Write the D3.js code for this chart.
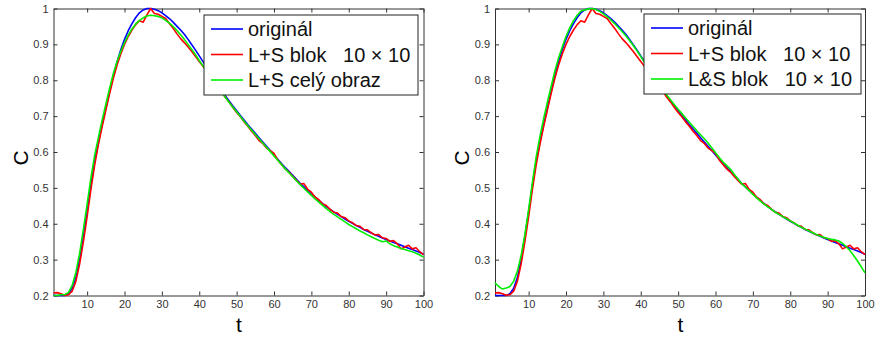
<!DOCTYPE html>
<html>
<head>
<meta charset="utf-8">
<script src="https://cdn.jsdelivr.net/npm/d3@7"></script>
<style>
  body { margin: 0; background: #fff; }
  svg { display: block; font-family: "Liberation Sans", Arial, sans-serif; }
  .tick text { font-size: 11px; fill: #333; }
  .domain, .tick line { stroke: #333; }
</style>
</head>
<body>
<svg id="chart" width="876" height="338"></svg>
<script>
// time axis t = 1..100
var t = d3.range(1, 101);

var original = [
  0.200, 0.200, 0.200, 0.200, 0.205, 0.220, 0.250, 0.300, 0.365, 0.433,
  0.507, 0.573, 0.626, 0.676, 0.722, 0.768, 0.812, 0.851, 0.885, 0.914,
  0.938, 0.958, 0.975, 0.988, 0.996, 1.000, 1.000, 0.998, 0.994, 0.988,
  0.980, 0.972, 0.962, 0.951, 0.940, 0.928, 0.914, 0.899, 0.884, 0.868,
  0.852, 0.836, 0.820, 0.804, 0.788, 0.772, 0.756, 0.742, 0.728, 0.715,
  0.702, 0.689, 0.676, 0.664, 0.652, 0.640, 0.628, 0.616, 0.604, 0.592,
  0.580, 0.568, 0.557, 0.546, 0.535, 0.524, 0.513, 0.503, 0.493, 0.483,
  0.474, 0.465, 0.456, 0.448, 0.440, 0.433, 0.426, 0.420, 0.413, 0.407,
  0.401, 0.395, 0.390, 0.384, 0.379, 0.374, 0.369, 0.365, 0.360, 0.356,
  0.352, 0.348, 0.344, 0.340, 0.336, 0.332, 0.328, 0.324, 0.320, 0.315
];

// L+S blok 10x10 (same in both panels)
var lsBlok = [
  0.207, 0.208, 0.205, 0.201, 0.202, 0.212, 0.240, 0.288, 0.350, 0.420,
  0.495, 0.563, 0.620, 0.670, 0.716, 0.762, 0.805, 0.842, 0.873, 0.900,
  0.922, 0.940, 0.955, 0.966, 0.962, 0.982, 1.000, 0.986, 0.984, 0.978,
  0.972, 0.958, 0.945, 0.930, 0.916, 0.905, 0.893, 0.880, 0.866, 0.852,
  0.839, 0.826, 0.812, 0.798, 0.783, 0.768, 0.752, 0.739, 0.724, 0.710,
  0.698, 0.684, 0.672, 0.658, 0.646, 0.632, 0.624, 0.611, 0.604, 0.596,
  0.578, 0.565, 0.553, 0.544, 0.532, 0.521, 0.510, 0.512, 0.496, 0.488,
  0.474, 0.467, 0.455, 0.451, 0.440, 0.432, 0.430, 0.420, 0.417, 0.408,
  0.403, 0.395, 0.393, 0.384, 0.383, 0.375, 0.369, 0.370, 0.361, 0.359,
  0.351, 0.353, 0.344, 0.330, 0.335, 0.340, 0.330, 0.333, 0.322, 0.314
];

// L+S celý obraz (left panel)
var lsCely = [
  0.200, 0.200, 0.202, 0.203, 0.208, 0.228, 0.265, 0.318, 0.385, 0.455,
  0.527, 0.590, 0.640, 0.688, 0.733, 0.777, 0.818, 0.852, 0.880, 0.905,
  0.926, 0.943, 0.957, 0.967, 0.974, 0.979, 0.981, 0.980, 0.978, 0.974,
  0.967, 0.959, 0.950, 0.939, 0.927, 0.914, 0.900, 0.886, 0.871, 0.855,
  0.840, 0.825, 0.810, 0.795, 0.780, 0.766, 0.752, 0.738, 0.725, 0.712,
  0.699, 0.686, 0.673, 0.661, 0.649, 0.637, 0.625, 0.613, 0.601, 0.589,
  0.577, 0.565, 0.553, 0.542, 0.531, 0.520, 0.509, 0.499, 0.489, 0.479,
  0.469, 0.460, 0.451, 0.442, 0.434, 0.426, 0.419, 0.412, 0.405, 0.398,
  0.392, 0.386, 0.380, 0.375, 0.369, 0.364, 0.359, 0.354, 0.350, 0.352,
  0.344, 0.339, 0.335, 0.331, 0.328, 0.325, 0.322, 0.318, 0.313, 0.307
];

// L&S blok 10x10 (right panel)
var lAndSBlok = [
  0.235, 0.225, 0.218, 0.221, 0.225, 0.240, 0.268, 0.312, 0.370, 0.440,
  0.515, 0.585, 0.642, 0.692, 0.738, 0.782, 0.825, 0.862, 0.893, 0.922,
  0.946, 0.966, 0.981, 0.993, 0.996, 0.999, 1.000, 0.997, 0.992, 0.985,
  0.977, 0.968, 0.958, 0.947, 0.936, 0.924, 0.911, 0.897, 0.882, 0.866,
  0.850, 0.834, 0.818, 0.802, 0.787, 0.772, 0.758, 0.745, 0.732, 0.719,
  0.707, 0.695, 0.683, 0.671, 0.659, 0.648, 0.637, 0.625, 0.612, 0.598,
  0.585, 0.572, 0.562, 0.552, 0.538, 0.525, 0.512, 0.502, 0.492, 0.482,
  0.472, 0.463, 0.455, 0.447, 0.440, 0.432, 0.426, 0.420, 0.414, 0.408,
  0.402, 0.396, 0.390, 0.385, 0.380, 0.375, 0.370, 0.366, 0.362, 0.359,
  0.357, 0.355, 0.352, 0.345, 0.336, 0.325, 0.311, 0.296, 0.280, 0.263
];

var xTicks = [10, 20, 30, 40, 50, 60, 70, 80, 90, 100];
var yTicks = [0.2, 0.3, 0.4, 0.5, 0.6, 0.7, 0.8, 0.9, 1];

var panels = [
  { left: 53.5, names: ["originál", "L+S blok\u00a0\u00a0\u00a010 × 10", "L+S celý obraz"],
    series: [original, lsBlok, lsCely], legendX: 204, legendW: 214, legendY: 15 },
  { left: 495, names: ["originál", "L+S blok\u00a0\u00a0\u00a010 × 10", "L&S blok\u00a0\u00a0\u00a010 × 10"],
    series: [original, lsBlok, lAndSBlok], legendX: 644, legendW: 217, legendY: 14 }
];
var colors = ["#0000ff", "#ff0000", "#00ee00"];

var plotW = 370, plotTop = 8.5, plotH = 287;
var svg = d3.select("#chart");

panels.forEach(function (p) {
  var g = svg.append("g").attr("transform", "translate(" + p.left + "," + plotTop + ")");

  var x = d3.scaleLinear().domain([1, 100]).range([0, plotW]);
  var y = d3.scaleLinear().domain([0.2, 1]).range([plotH, 0]);

  g.append("rect").attr("width", plotW).attr("height", plotH).attr("fill", "#fff");

  g.append("g").attr("transform", "translate(0," + plotH + ")")
    .call(d3.axisBottom(x).tickValues(xTicks).tickSizeInner(-4).tickSizeOuter(0).tickPadding(5));
  g.append("g")
    .call(d3.axisTop(x).tickValues(xTicks).tickSizeInner(-4).tickSizeOuter(0).tickFormat(""));
  g.append("g")
    .call(d3.axisLeft(y).tickValues(yTicks).tickSizeInner(-4).tickSizeOuter(0).tickPadding(5)
      .tickFormat(function (d) { return d === 1 ? "1" : d.toFixed(1); }));
  g.append("g").attr("transform", "translate(" + plotW + ",0)")
    .call(d3.axisRight(y).tickValues(yTicks).tickSizeInner(-4).tickSizeOuter(0).tickFormat(""));

  var line = d3.line()
    .x(function (d, i) { return x(t[i]); })
    .y(function (d) { return y(d); });

  p.series.forEach(function (s, i) {
    g.append("path").datum(s)
      .attr("fill", "none")
      .attr("stroke", colors[i])
      .attr("stroke-width", 1.6)
      .attr("stroke-linejoin", "round")
      .attr("d", line);
  });

  // axis titles
  g.append("text")
    .attr("x", plotW / 2 + 0.5).attr("y", 332 - plotTop)
    .attr("text-anchor", "middle")
    .style("font-size", "21px")
    .text("t");
  g.append("text")
    .attr("transform", "translate(-33," + (plotH / 2 + 6) + ") rotate(-90)")
    .attr("text-anchor", "middle")
    .attr("dy", "0.35em")
    .style("font-size", "21px")
    .text("C");

  // legend
  var lg = svg.append("g").attr("transform", "translate(" + p.legendX + "," + p.legendY + ")");
  lg.append("rect")
    .attr("width", p.legendW).attr("height", 80)
    .attr("fill", "#fff").attr("stroke", "#222").attr("stroke-width", 1);
  p.names.forEach(function (n, i) {
    var cy = 14 + i * 25.5;
    lg.append("line")
      .attr("x1", 7).attr("x2", 39).attr("y1", cy).attr("y2", cy)
      .attr("stroke", colors[i]).attr("stroke-width", 1.6);
    lg.append("text")
      .attr("x", 44).attr("y", cy).attr("dy", "0.35em")
      .style("font-size", "20px")
      .attr("fill", "#111")
      .text(n);
  });
});
</script>
</body>
</html>
